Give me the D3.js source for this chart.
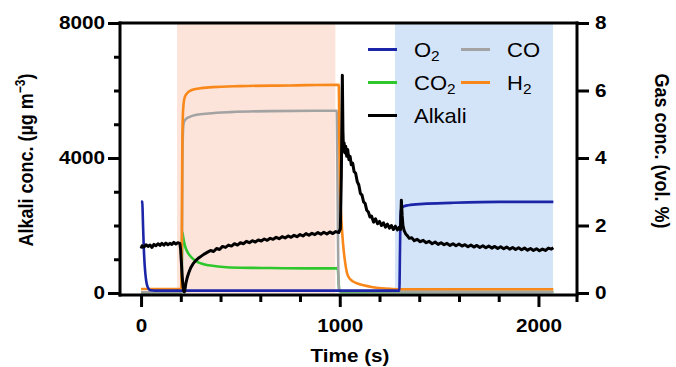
<!DOCTYPE html>
<html>
<head>
<meta charset="utf-8">
<script src="https://cdn.jsdelivr.net/npm/d3@7"></script>
<style>
  body { margin: 0; background: #fff; }
  svg { display: block; font-family: "Liberation Sans", Arial, sans-serif; }
</style>
</head>
<body>
<svg id="chart" width="676" height="367"></svg>
<script>
// tick values
const alkaliTicks = [0, 4000, 8000];
const alkaliMinor = [1000, 2000, 3000, 5000, 6000, 7000];
const gasTicks = [0, 2, 4, 6, 8];
const timeTicks = [0, 1000, 2000];
const timeMinor = [200, 400, 600, 800, 1200, 1400, 1600, 1800];

// shaded periods (s): reducing, oxidising
const periods = [[181, 978], [1278, 2073]];

// gas concentrations, vol. % : [time s, value]
const o2 = [[0, 2.72], [6, 2.7], [10, 2.0], [14, 1.3], [18, 0.85], [22, 0.55], [27, 0.32], [33, 0.18],
  [40, 0.11], [50, 0.08], [70, 0.07], [1300, 0.07], [1303, 1.2], [1306, 2.3], [1310, 2.5], [1320, 2.56],
  [1345, 2.6], [1420, 2.64], [1560, 2.67], [1800, 2.7], [2075, 2.7]];

const co2 = [[0, 0.02], [204, 0.02], [206, 1.2], [208, 1.8], [212, 1.65], [220, 1.42], [235, 1.2],
  [255, 1.05], [275, 0.95], [300, 0.88], [340, 0.82], [400, 0.78], [500, 0.75], [650, 0.74], [850, 0.73],
  [990, 0.73], [994, 0.35], [998, 0.06], [1010, 0.03], [2075, 0.03]];

const co = [[0, 0.02], [204, 0.02], [206, 1.5], [208, 3.8], [211, 4.8], [215, 5.05], [225, 5.15],
  [245, 5.22], [280, 5.28], [340, 5.32], [450, 5.36], [650, 5.39], [985, 5.4], [989, 3.0], [993, 0.5],
  [998, 0.05], [2075, 0.03]];

const h2 = [[0, 0.12], [203, 0.12], [205, 1.5], [207, 3.8], [210, 5.2], [214, 5.6], [220, 5.8], [232, 5.92],
  [250, 6.0], [290, 6.06], [360, 6.1], [500, 6.13], [750, 6.15], [995, 6.17], [998, 4.5], [1002, 3.0],
  [1008, 2.2], [1016, 1.5], [1026, 0.95], [1036, 0.6], [1048, 0.44], [1065, 0.35], [1090, 0.28],
  [1120, 0.23], [1160, 0.18], [1210, 0.14], [1260, 0.12], [1300, 0.11], [2075, 0.11]];

// alkali concentration, ug m-3 : [time s, value]
const alkali = [[0, 1320], [5, 1400], [15, 1360], [25, 1430], [35, 1380], [45, 1420], [55, 1350], [65, 1440],
  [75, 1400], [85, 1460], [95, 1410], [105, 1470], [115, 1420], [125, 1480], [135, 1430], [145, 1470],
  [155, 1440], [165, 1500], [175, 1450], [185, 1490], [195, 1470], [199, 1300], [203, 900], [207, 500],
  [211, 200], [215, 60], [218, 30], [222, 150], [226, 300], [232, 450], [240, 600], [250, 750], [262, 870],
  [275, 960], [290, 1040], [305, 1100], [320, 1160], [335, 1210], [350, 1260], [365, 1230], [380, 1320],
  [395, 1290], [410, 1380], [425, 1350], [440, 1420], [455, 1390], [470, 1460], [485, 1420], [500, 1490],
  [515, 1460], [530, 1530], [545, 1490], [560, 1550], [575, 1510], [590, 1570], [605, 1540], [620, 1600],
  [635, 1560], [650, 1620], [665, 1590], [680, 1650], [695, 1610], [710, 1670], [725, 1630], [740, 1690],
  [755, 1650], [770, 1710], [785, 1670], [800, 1730], [815, 1690], [830, 1760], [845, 1710], [860, 1770],
  [875, 1730], [890, 1790], [905, 1740], [920, 1800], [935, 1750], [950, 1810], [965, 1760], [980, 1820],
  [995, 1790], [1003, 1900], [1008, 3500], [1013, 6450], [1016, 4800], [1019, 4200], [1022, 4450],
  [1026, 4150], [1030, 4350], [1035, 4050], [1040, 4250], [1046, 3950], [1052, 4050], [1058, 3800],
  [1065, 3850], [1072, 3600], [1080, 3550], [1088, 3300], [1096, 3200], [1104, 2950], [1112, 2900],
  [1120, 2700], [1128, 2650], [1136, 2450], [1144, 2400], [1152, 2250], [1160, 2280], [1170, 2100],
  [1180, 2200], [1190, 2050], [1200, 2120], [1210, 2000], [1220, 2080], [1230, 1950], [1240, 2040],
  [1250, 1920], [1260, 2000], [1270, 1880], [1280, 1980], [1290, 1870], [1300, 1950], [1306, 1880],
  [1310, 2750], [1314, 2300], [1318, 2000], [1324, 1850], [1332, 1750], [1340, 1700], [1350, 1620],
  [1362, 1640], [1375, 1550], [1390, 1590], [1405, 1520], [1420, 1560], [1435, 1490], [1450, 1530],
  [1465, 1460], [1480, 1510], [1495, 1440], [1510, 1490], [1525, 1430], [1540, 1470], [1555, 1410],
  [1570, 1460], [1585, 1400], [1600, 1450], [1615, 1390], [1630, 1430], [1645, 1370], [1660, 1420],
  [1675, 1360], [1690, 1410], [1705, 1350], [1720, 1400], [1735, 1340], [1750, 1390], [1765, 1330],
  [1780, 1380], [1795, 1320], [1810, 1370], [1825, 1310], [1840, 1360], [1855, 1300], [1870, 1350],
  [1885, 1290], [1900, 1340], [1915, 1280], [1930, 1330], [1945, 1270], [1960, 1320], [1975, 1260],
  [1990, 1310], [2005, 1250], [2020, 1300], [2035, 1260], [2050, 1330], [2065, 1300], [2075, 1340]];

const legendCols = [['O2', 'CO2', 'Alkali'], ['CO', 'H2']];

const colors = {
  O2: '#1c25a8', CO2: '#2ec82e', CO: '#a3a3a3', H2: '#f8881a', Alkali: '#000'
};
const periodColors = ['#fde4da', '#d4e4f8'];
const STRETCH = 1.15;

const svg = d3.select('#chart');

const x = d3.scaleLinear().domain([-106, 2194]).range([120, 577]);
const yL = d3.scaleLinear().domain([0, 8000]).range([293, 23]);
const yR = d3.scaleLinear().domain([0, 8]).range([293, 23]);

/*
 * shaded periods
 */
svg.selectAll('rect.period')
  .data(periods)
  .enter()
  .append('rect')
  .attr('class', 'period')
  .attr('x', d => x(d[0]))
  .attr('width', d => x(d[1]) - x(d[0]))
  .attr('y', yL(8000))
  .attr('height', yL(0) - yL(8000))
  .attr('fill', (d, i) => periodColors[i]);

/*
 * series
 */
const gasLine = d3.line()
  .x(d => x(d[0]))
  .y(d => yR(d[1]))
  .curve(d3.curveMonotoneX);

const gasSeries = [['CO2', co2], ['CO', co], ['H2', h2], ['O2', o2]];
svg.selectAll('path.gas')
  .data(gasSeries)
  .enter()
  .append('path')
  .attr('class', 'gas')
  .attr('d', d => gasLine(d[1]))
  .attr('fill', 'none')
  .attr('stroke', d => colors[d[0]])
  .attr('stroke-width', 2.6)
  .attr('stroke-linejoin', 'round');

svg.append('path')
  .datum(alkali)
  .attr('d', d3.line().x(d => x(d[0])).y(d => yL(d[1])))
  .attr('fill', 'none')
  .attr('stroke', colors.Alkali)
  .attr('stroke-width', 3)
  .attr('stroke-linejoin', 'round');

/*
 * axes
 */
function styleAxis(g) {
  g.select('.domain').remove();
  g.selectAll('.tick line').attr('stroke', '#000').attr('stroke-width', 3);
  g.selectAll('.tick text')
    .attr('fill', '#000')
    .attr('font-size', 18)
    .attr('font-weight', 'bold')
    .attr('font-family', '"Liberation Sans", Arial, sans-serif');
}

svg.append('g')
  .attr('transform', 'translate(120,0)')
  .call(d3.axisLeft(yL).tickValues(alkaliMinor).tickSize(6).tickFormat(''))
  .call(styleAxis);

svg.append('g')
  .attr('transform', 'translate(120,0)')
  .call(d3.axisLeft(yL).tickValues(alkaliTicks).tickSize(12).tickFormat(d3.format('d')))
  .call(styleAxis)
  .call(g => g.selectAll('.tick text')
    .attr('x', -15 / STRETCH)
    .attr('transform', `scale(${STRETCH},1)`));

svg.append('g')
  .attr('transform', 'translate(577,0)')
  .call(d3.axisRight(yR).tickValues(gasTicks).tickSize(12).tickFormat(d3.format('d')))
  .call(styleAxis)
  .call(g => g.selectAll('.tick text')
    .attr('x', 18 / STRETCH)
    .attr('transform', `scale(${STRETCH},1)`));

svg.append('g')
  .attr('transform', 'translate(0,295)')
  .call(d3.axisBottom(x).tickValues(timeMinor).tickSize(7).tickFormat(''))
  .call(styleAxis);

svg.append('g')
  .attr('transform', 'translate(0,295)')
  .call(d3.axisBottom(x).tickValues(timeTicks).tickSize(12).tickFormat(d3.format('d')))
  .call(styleAxis)
  .call(g => g.selectAll('.tick text')
    .attr('y', 24)
    .attr('transform', `scale(${STRETCH},1)`));

// frame lines
const frame = [
  [120, 21.5, 120, 296.5],
  [118.5, 23, 578.5, 23],
  [577, 21.5, 577, 302],
  [118.5, 295, 578.5, 295]
];
svg.selectAll('line.frame')
  .data(frame)
  .enter()
  .append('line')
  .attr('class', 'frame')
  .attr('x1', d => d[0]).attr('y1', d => d[1])
  .attr('x2', d => d[2]).attr('y2', d => d[3])
  .attr('stroke', '#000')
  .attr('stroke-width', 3);

/*
 * axis titles
 */
const titleFont = { size: 18, weight: 'bold' };

svg.append('text')
  .attr('transform', `translate(350,362) scale(${STRETCH},1)`)
  .attr('text-anchor', 'middle')
  .attr('font-size', titleFont.size)
  .attr('font-weight', titleFont.weight)
  .text('Time (s)');

const leftTitle = svg.append('text')
  .attr('transform', `translate(33,160) rotate(-90) scale(1,${STRETCH})`)
  .attr('text-anchor', 'middle')
  .attr('font-size', titleFont.size)
  .attr('font-weight', titleFont.weight);
leftTitle.append('tspan').text('Alkali conc. (\u00b5g m');
leftTitle.append('tspan').attr('font-size', 12).attr('dy', -7).text('\u22123');
leftTitle.append('tspan').attr('dy', 7).text(')');

svg.append('text')
  .attr('transform', `translate(655,151) rotate(90) scale(1,1.1)`)
  .attr('text-anchor', 'middle')
  .attr('font-size', titleFont.size)
  .attr('font-weight', titleFont.weight)
  .text('Gas conc. (vol. %)');

/*
 * legend
 */
const legendX = [368, 461];
const legendY = [49.5, 82.5, 115.5];

legendCols.forEach((col, ci) => {
  col.forEach((name, ri) => {
    const gy = legendY[ri];
    const gx = legendX[ci];
    svg.append('line')
      .attr('x1', gx).attr('x2', gx + 29)
      .attr('y1', gy).attr('y2', gy)
      .attr('stroke', colors[name])
      .attr('stroke-width', 3);
    const m = name.match(/^(.*?)(\d*)$/);
    const t = svg.append('text')
      .attr('transform', `translate(${gx + 46},${gy + 7.5}) scale(1.1,1)`)
      .attr('font-size', 20)
      .attr('fill', '#000');
    t.append('tspan').text(m[1]);
    if (m[2]) {
      t.append('tspan').attr('font-size', 14).attr('dy', 4).text(m[2]);
    }
  });
});
</script>
</body>
</html>
